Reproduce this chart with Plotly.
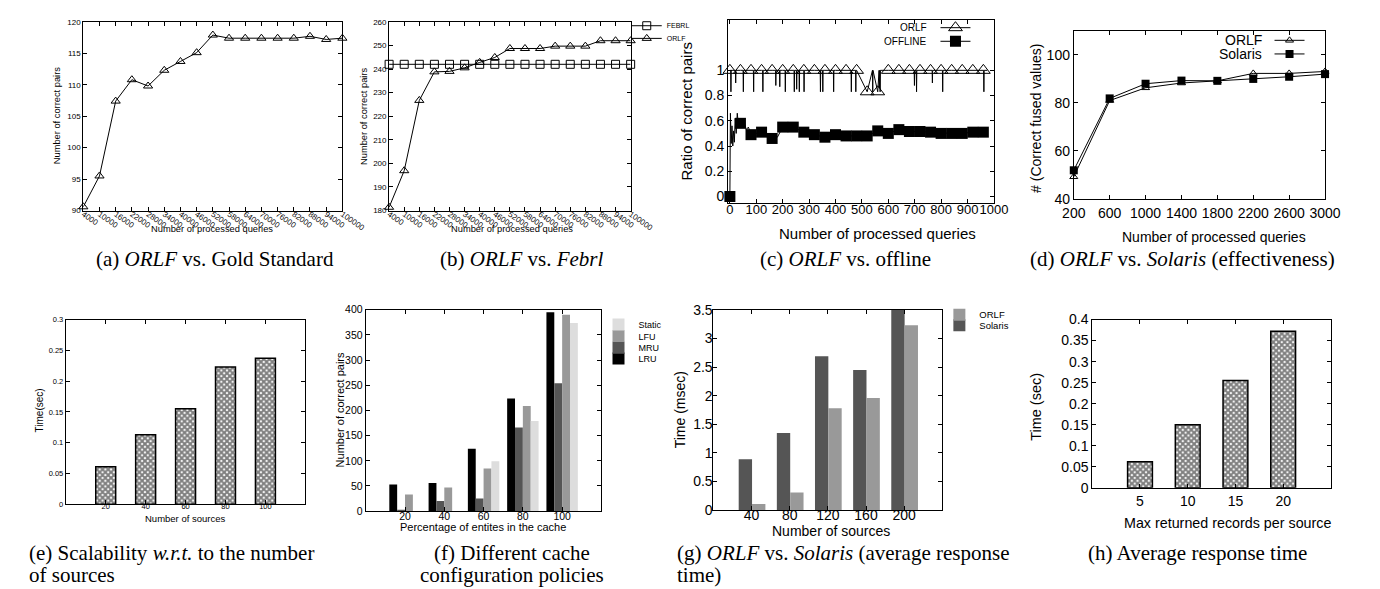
import plotly.graph_objects as go

W, H = 1380, 589
SANS = "Liberation Sans, Arial, sans-serif"
SERIF = "Liberation Serif, Times New Roman, serif"

# ---------------- data ----------------
# (a) ORLF vs Gold Standard
a_queries = [4000, 10000, 16000, 22000, 28000, 34000, 40000, 46000, 52000,
             58000, 64000, 70000, 76000, 82000, 88000, 94000, 100000]
a_orlf_pairs = [90.6, 95.5, 107.4, 110.8, 109.8, 112.3, 113.7, 115.1, 117.9,
                117.4, 117.4, 117.4, 117.4, 117.4, 117.7, 117.2, 117.4]
a_yticks = [90, 95, 100, 105, 110, 115, 120]

# (b) ORLF vs Febrl
b_queries = [4000, 10000, 16000, 22000, 28000, 34000, 40000, 46000, 52000,
             58000, 64000, 70000, 76000, 82000, 88000, 94000, 100000]
b_febrl_pairs = [242, 242, 242, 242, 242, 242, 242, 242, 242,
                 242, 242, 242, 242, 242, 242, 242, 242]
b_orlf_pairs = [181.4, 196.9, 226.7, 238.8, 239.0, 240.5, 242.8, 244.9, 248.7,
                248.7, 248.7, 249.7, 249.7, 249.7, 252.0, 252.0, 252.0]
b_yticks = [180, 190, 200, 210, 220, 230, 240, 250, 260]

# (c) ORLF vs offline
c_mark_queries = [0, 40, 80, 120, 160, 200, 240, 280, 320, 360, 400, 440, 480,
                  520, 560, 600, 640, 680, 720, 760, 800, 840, 880, 920, 960]
c_orlf_mark_ratio = [1, 1, 1, 1, 1, 1, 1, 1, 1, 1, 1, 1, 1,
                     0.83, 0.83, 1, 1, 1, 1, 1, 1, 1, 1, 1, 1]
c_orlf_dip_queries = [4, 22, 51, 90, 125, 174, 189, 210, 244, 253, 263, 281,
                      343, 352, 393, 460, 477, 541, 566, 569, 699, 707, 767, 806, 962]
c_orlf_dip_ratio = [0.83, 0.90, 0.83, 0.83, 0.83, 0.88, 0.87, 0.83, 0.83, 0.85, 0.83, 0.83,
                    0.83, 0.83, 0.83, 0.83, 0.83, 0.83, 0.86, 0.83, 0.88, 0.83, 0.90, 0.83, 0.83]
c_orlf_end = [975, 1]
c_offline_queries = [0, 2, 5, 8, 11, 14, 17, 20, 24, 28, 33, 48, 55, 62, 70, 180, 975]
c_offline_ratio = [0, 0.66, 0.42, 0.56, 0.40, 0.52, 0.43, 0.62, 0.50, 0.66, 0.55,
                   0.56, 0.58, 0.53, 0.55, 0.47, 0.51]
c_offline_mark_ratio = [0, 0.58, 0.49, 0.51, 0.46, 0.55, 0.55, 0.51, 0.49, 0.47, 0.49,
                        0.48, 0.48, 0.48, 0.52, 0.50, 0.53, 0.515, 0.515, 0.51, 0.50,
                        0.50, 0.50, 0.51, 0.51]
c_xticks = [0, 100, 200, 300, 400, 500, 600, 700, 800, 900, 1000]
c_yticks = [0, 0.2, 0.4, 0.6, 0.8, 1]

# (d) ORLF vs Solaris (effectiveness)
d_queries = [200, 600, 1000, 1400, 1800, 2200, 2600, 3000]
d_orlf_values = [49.2, 80.9, 86.2, 88.2, 89.1, 92.2, 92.2, 93.0]
d_solaris_values = [51.9, 81.8, 87.9, 89.2, 89.1, 89.9, 90.8, 91.9]
d_yticks = [40, 60, 80, 100]

# (e) scalability
e_sources = [20, 40, 60, 80, 100]
e_time_sec = [0.061, 0.113, 0.155, 0.223, 0.237]
e_yticks = [0, 0.05, 0.1, 0.15, 0.2, 0.25, 0.3]

# (f) cache policies
f_percent = [20, 40, 60, 80, 100]
f_lru = [53, 56, 124, 224, 395]
f_mru = [1, 20, 25, 166, 254]
f_lfu = [33, 47, 85, 209, 390]
f_static = [0, 0, 99, 179, 374]
f_yticks = [0, 50, 100, 150, 200, 250, 300, 350, 400]

# (g) ORLF vs Solaris (response time)
g_sources = [40, 80, 120, 160, 200]
g_solaris_msec = [0.89, 1.35, 2.69, 2.45, 3.5]
g_orlf_msec = [0.11, 0.31, 1.78, 1.96, 3.23]
g_yticks = [0, 0.5, 1, 1.5, 2, 2.5, 3, 3.5]

# (h) average response time
h_max_records = [5, 10, 15, 20]
h_time_sec = [0.062, 0.150, 0.255, 0.372]
h_yticks = [0, 0.05, 0.1, 0.15, 0.2, 0.25, 0.3, 0.35, 0.4]

# ---------------- figure ----------------
fig = go.Figure()
annotations = []


def px(x):
    return x / W


def py(y):
    return 1 - y / H


def ann(text, x, y, size, family=SANS, angle=0, xanchor="center", yanchor="middle"):
    annotations.append(dict(text=text, x=px(x), y=py(y), xref="paper", yref="paper",
                            showarrow=False, textangle=angle, xanchor=xanchor,
                            yanchor=yanchor, font=dict(family=family, size=size, color="black")))


def axes(n, box, xr, yr, xtv, ytv, xfs, yfs, xtt=None, xangle=0, xso=0, yso=0):
    l, t, r, b = box
    s = "" if n == 1 else str(n)
    common = dict(showline=True, linecolor="black", linewidth=1, mirror="ticks",
                  ticks="inside", ticklen=4, tickwidth=1, tickcolor="black",
                  showgrid=False, zeroline=False, fixedrange=True)
    xa = dict(common, domain=[px(l), px(r)], range=xr, tickvals=xtv, anchor="y" + s,
              tickangle=xangle, ticklabelstandoff=xso,
              tickfont=dict(family=SANS, size=xfs, color="black"))
    if xtt is not None:
        xa["ticktext"] = xtt
    ya = dict(common, domain=[1 - b / H, 1 - t / H], range=yr, tickvals=ytv, anchor="x" + s,
              ticklabelstandoff=yso, tickfont=dict(family=SANS, size=yfs, color="black"))
    fig.update_layout({"xaxis" + s: xa, "yaxis" + s: ya})


def legend_at(x, y, size=8):
    return dict(x=px(x), y=py(y), xanchor="left", yanchor="middle", bgcolor="rgba(0,0,0,0)",
                borderwidth=0, font=dict(family=SANS, size=size, color="black"))


BLK = "black"

# (a)
axes(1, (65, 6, 331, 200), [4000, 100000], [90, 120], a_queries, a_yticks, 8, 8,
     xtt=[str(q) for q in a_queries], xangle=35, xso=-5)
fig.add_trace(go.Scatter(x=a_queries, y=a_orlf_pairs, mode="lines+markers", xaxis="x", yaxis="y",
                         line=dict(color=BLK, width=1), cliponaxis=False, showlegend=False,
                         marker=dict(symbol="triangle-up-open", size=8, color=BLK, line=dict(width=1, color=BLK))))

# (b)
axes(2, (379, 6, 627, 200), [4000, 100000], [180, 260], b_queries, b_yticks, 8, 8,
     xtt=[str(q) for q in b_queries], xangle=35, xso=-5)
fig.add_trace(go.Scatter(x=b_queries, y=b_febrl_pairs, mode="lines+markers", xaxis="x2", yaxis="y2",
                         name="FEBRL", legend="legend", line=dict(color=BLK, width=1), cliponaxis=False,
                         marker=dict(symbol="square-open", size=8, color=BLK, line=dict(width=1, color=BLK))))
fig.add_trace(go.Scatter(x=b_queries, y=b_orlf_pairs, mode="lines+markers", xaxis="x2", yaxis="y2",
                         name="ORLF", legend="legend2", line=dict(color=BLK, width=1), cliponaxis=False,
                         marker=dict(symbol="triangle-up-open", size=8, color=BLK, line=dict(width=1, color=BLK))))

# (c)
axes(3, (727, 4, 1000, 192), [-7, 1000], [-0.05, 1.4], c_xticks, c_yticks, 13, 14, xso=-5)
pts = {}
for d in c_orlf_dip_queries:
    pts[d - 1] = 1
    pts[d + 1] = 1
pts.update(zip(c_mark_queries, c_orlf_mark_ratio))
pts.update(zip(c_orlf_dip_queries, c_orlf_dip_ratio))
pts[c_orlf_end[0]] = c_orlf_end[1]
orlf_x = sorted(pts)
orlf_y = [pts[q] for q in orlf_x]
mark_set = set(c_mark_queries)
orlf_sel = [i for i, q in enumerate(orlf_x) if q in mark_set]
fig.add_trace(go.Scatter(x=orlf_x, y=orlf_y, mode="lines+markers", xaxis="x3", yaxis="y3",
                         name=" ", legend="legend3", line=dict(color=BLK, width=1), cliponaxis=False,
                         selectedpoints=orlf_sel, unselected=dict(marker=dict(opacity=0)),
                         selected=dict(marker=dict(opacity=1)),
                         marker=dict(symbol="triangle-up-open", size=12, color=BLK, line=dict(width=1, color=BLK))))
pts = dict(zip(c_offline_queries, c_offline_ratio))
pts.update(zip(c_mark_queries, c_offline_mark_ratio))
off_x = sorted(pts)
off_y = [pts[q] for q in off_x]
off_sel = [i for i, q in enumerate(off_x) if q in mark_set]
fig.add_trace(go.Scatter(x=off_x, y=off_y, mode="lines+markers", xaxis="x3", yaxis="y3",
                         name=" ", legend="legend4", line=dict(color=BLK, width=1), cliponaxis=False,
                         selectedpoints=off_sel, unselected=dict(marker=dict(opacity=0)),
                         selected=dict(marker=dict(opacity=1)),
                         marker=dict(symbol="square", size=11, color=BLK)))

# (d)
axes(4, (1082, 15, 1340, 188), [200, 3000], [40, 110], d_queries, d_yticks, 14, 14, xso=1)
fig.add_trace(go.Scatter(x=d_queries, y=d_orlf_values, mode="lines+markers", xaxis="x4", yaxis="y4",
                         name=" ", legend="legend5", line=dict(color=BLK, width=1), cliponaxis=False,
                         marker=dict(symbol="triangle-up-open", size=7, color=BLK, line=dict(width=1, color=BLK))))
fig.add_trace(go.Scatter(x=d_queries, y=d_solaris_values, mode="lines+markers", xaxis="x4", yaxis="y4",
                         name=" ", legend="legend6", line=dict(color=BLK, width=1), cliponaxis=False,
                         marker=dict(symbol="square", size=8, color=BLK)))

# (e)
checker = dict(shape="x", fgcolor=BLK, bgcolor="white", size=4, solidity=0.75)
axes(5, (47, 312, 293, 502), [0, 120], [0, 0.3], e_sources, e_yticks, 7.5, 7.5, xso=-5)
fig.add_trace(go.Bar(x=e_sources, y=e_time_sec, width=10, xaxis="x5", yaxis="y5", showlegend=False,
                     marker=dict(color="white", line=dict(color=BLK, width=1.5), pattern=checker)))

# (f)
axes(6, (355, 302, 597, 509), [0, 120], [0, 400], f_percent, f_yticks, 10.5, 10.5, xso=-5)
for name, vals, col, off, lg in [("LRU", f_lru, "#000000", -8, "legend10"),
                                 ("MRU", f_mru, "#555555", -4, "legend9"),
                                 ("LFU", f_lfu, "#999999", 0, "legend8"),
                                 ("Static", f_static, "#dddddd", 4, "legend7")]:
    fig.add_trace(go.Bar(x=f_percent, y=vals, width=4, offset=off, xaxis="x6", yaxis="y6",
                         name=name, legend=lg, marker=dict(color=col, line=dict(width=0))))

# (g)
axes(7, (712, 302, 947, 508), [0, 240], [0, 3.5], g_sources, g_yticks, 14, 14, xso=-8, yso=-3)
fig.add_trace(go.Bar(x=g_sources, y=g_solaris_msec, width=14, offset=-13.5, xaxis="x7", yaxis="y7",
                     name="Solaris", legend="legend12", marker=dict(color="#555555", line=dict(width=0))))
fig.add_trace(go.Bar(x=g_sources, y=g_orlf_msec, width=14, offset=0.5, xaxis="x7", yaxis="y7",
                     name="ORLF", legend="legend11", marker=dict(color="#999999", line=dict(width=0))))

# (h)
axes(8, (1101, 312, 1346, 485), [0, 25], [0, 0.4], h_max_records, h_yticks, 14, 14)
fig.add_trace(go.Bar(x=h_max_records, y=h_time_sec, width=2.6, xaxis="x8", yaxis="y8", showlegend=False,
                     marker=dict(color="white", line=dict(color=BLK, width=1.5), pattern=checker)))

# legends
fig.update_layout(
    legend=legend_at(623, 10, 7), legend2=legend_at(623, 23, 7),
    legend3=legend_at(940, 12), legend4=legend_at(940, 26),
    legend5=legend_at(1283, 25), legend6=legend_at(1283, 39),
    legend7=legend_at(594, 317, 9), legend8=legend_at(594, 329, 9),
    legend9=legend_at(594, 341, 9), legend10=legend_at(594, 352, 9),
    legend11=legend_at(944, 307, 9.5), legend12=legend_at(944, 318, 9.5),
)
ann("ORLF", 933, 12, 10, xanchor="right")
ann("OFFLINE", 933, 26, 10, xanchor="right")
ann("ORLF", 1277, 25, 14, xanchor="right")
ann("Solaris", 1277, 39, 14, xanchor="right")

# axis titles
ann("Number of processed queries", 197, 219, 9.3)
ann("Number of correct pairs", 38, 103, 9.3, angle=-90)
ann("Number of processed queries", 505, 219, 9.3)
ann("Number of correct pairs", 353, 103, 9.3, angle=-90)
ann("Number of processed queries", 880, 224, 15)
ann("Ratio of correct pairs", 684, 98, 15, angle=-90)
ann("Number of processed queries", 1226, 227, 14)
ann("# (Correct fused values)", 1043, 105, 14, angle=-90)
ann("Number of sources", 170, 517, 9.5)
ann("Time(sec)", 21, 405, 10, angle=-90)
ann("Percentage of entites in the cache", 475, 525, 11)
ann("Number of correct pairs", 329, 405, 11, angle=-90)
ann("Number of sources", 833, 529, 14)
ann("Time (msec)", 678, 405, 14, angle=-90)
ann("Max returned records per source", 1240, 521, 14.3)
ann("Time (sec)", 1043, 402, 14.5, angle=-90)

# captions
CAP = 21
ann("(a) <i>ORLF</i> vs. Gold Standard", 200, 250, CAP, family=SERIF)
ann("(b) <i>ORLF</i> vs. <i>Febrl</i>", 515, 250, CAP, family=SERIF)
ann("(c) <i>ORLF</i> vs. offline", 848, 250, CAP, family=SERIF)
ann("(d) <i>ORLF</i> vs. <i>Solaris</i> (effectiveness)", 1194, 250, CAP, family=SERIF)
ann("(e) Scalability <i>w.r.t.</i> to the number", 7, 552, CAP, family=SERIF, xanchor="left")
ann("of sources", 7, 575, CAP, family=SERIF, xanchor="left")
ann("(f) Different cache", 505, 552, CAP, family=SERIF)
ann("configuration policies", 505, 575, CAP, family=SERIF)
ann("(g) <i>ORLF</i> vs. <i>Solaris</i> (average response", 673, 552, CAP, family=SERIF, xanchor="left")
ann("time)", 673, 575, CAP, family=SERIF, xanchor="left")
ann("(h) Average response time", 1209, 552, CAP, family=SERIF)

fig.update_layout(width=W, height=H, margin=dict(l=0, r=0, t=0, b=0),
                  paper_bgcolor="white", plot_bgcolor="white", barmode="overlay",
                  annotations=annotations, font=dict(family=SANS, color="black"))

fig.write_html("out.html")
